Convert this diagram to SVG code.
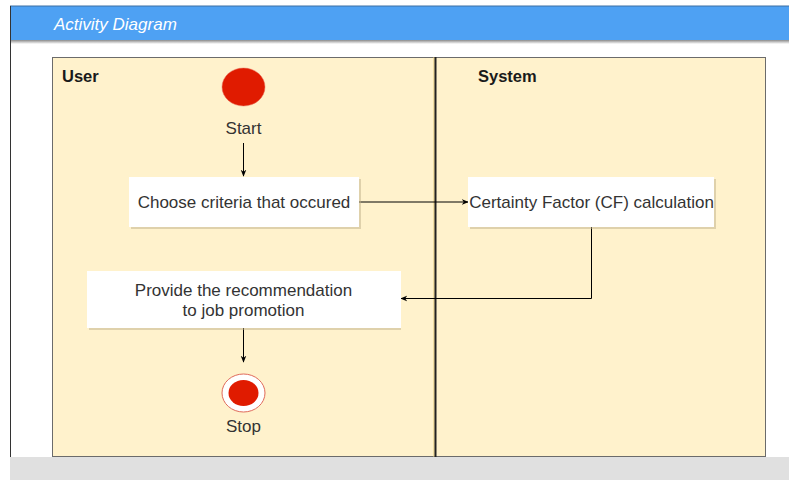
<svg xmlns="http://www.w3.org/2000/svg" width="789" height="480" viewBox="0 0 789 480">
<style>
text{font-family:"Liberation Sans",Arial,sans-serif;fill:#333}
.lbl{font-size:17px;text-anchor:middle}
.lane{font-size:16.5px;font-weight:bold;fill:#1a1a1a}
.box{fill:#ffffff}
.shadow{fill:#bfb08a;opacity:0.5}
.edge{stroke:#000;stroke-width:1;fill:none}
</style>
<defs>
<marker id="arr" viewBox="0 0 10 10" refX="9" refY="5" markerWidth="7" markerHeight="7" orient="auto" markerUnits="userSpaceOnUse">
<path d="M0,1 L10,5 L0,9 L3,5 Z" fill="#000"/>
</marker>
<linearGradient id="hs" x1="0" y1="0" x2="0" y2="1">
<stop offset="0" stop-color="#8a8a8a"/>
<stop offset="1" stop-color="#ffffff"/>
</linearGradient>
</defs>
<rect x="0" y="0" width="789" height="480" fill="#ffffff"/>
<g id="frame">
<rect x="10" y="40" width="779" height="4" fill="url(#hs)"/>
<rect x="10" y="6" width="779" height="34" fill="#4ea1f3"/>
<line x1="10" y1="6" x2="789" y2="6" stroke="#3b6fa3" stroke-width="1"/>
<line x1="10.5" y1="6" x2="10.5" y2="457" stroke="#333" stroke-width="1"/>
<text x="54" y="30" font-size="17" font-style="italic" style="fill:#ffffff">Activity Diagram</text>
<rect x="10" y="457" width="779" height="23" fill="#e0e0e0"/>
</g>
<g id="lanes">
<rect x="52.5" y="57.5" width="713" height="399" fill="#fff2cc" stroke="#6b6b6b" stroke-width="1"/>
<line x1="434" y1="57" x2="434" y2="457" stroke="#e3c878" stroke-width="1"/>
<line x1="435.5" y1="57" x2="435.5" y2="457" stroke="#222" stroke-width="2"/>
<text class="lane" x="62" y="82">User</text>
<text class="lane" x="478" y="82">System</text>
</g>
<g id="connectors">
<line class="edge" x1="243.5" y1="143" x2="243.5" y2="176" marker-end="url(#arr)"/>
<line class="edge" x1="359" y1="202" x2="468" y2="202" marker-end="url(#arr)"/>
<polyline class="edge" points="591.5,227 591.5,298.5 401,298.5" marker-end="url(#arr)"/>
<line class="edge" x1="243.5" y1="328" x2="243.5" y2="362" marker-end="url(#arr)"/>
</g>
<g id="start">
<ellipse cx="243.5" cy="87" rx="21.5" ry="19" fill="#e01b00" stroke="#e8735f" stroke-width="0.5"/>
<text class="lbl" x="243.5" y="134">Start</text>
</g>
<g id="choose">
<rect class="shadow" x="131" y="179" width="230" height="50"/>
<rect class="box" x="129" y="177" width="230" height="50"/>
<text class="lbl" x="244" y="208">Choose criteria that occured</text>
</g>
<g id="cf">
<rect class="shadow" x="470" y="179" width="246" height="50"/>
<rect class="box" x="468" y="177" width="246" height="50"/>
<text class="lbl" x="591.5" y="208">Certainty Factor (CF) calculation</text>
</g>
<g id="provide">
<rect class="shadow" x="89" y="273" width="312" height="57"/>
<rect class="box" x="87" y="271" width="314" height="57"/>
<text class="lbl" x="243.5" y="296">Provide the recommendation</text>
<text class="lbl" x="243.5" y="316">to job promotion</text>
</g>
<g id="stop">
<ellipse cx="243.5" cy="393" rx="21.5" ry="19" fill="#ffffff" stroke="#e06a5a" stroke-width="1"/>
<ellipse cx="243.5" cy="393" rx="15" ry="13" fill="#e01b00"/>
<text class="lbl" x="243.5" y="432">Stop</text>
</g>
</svg>
